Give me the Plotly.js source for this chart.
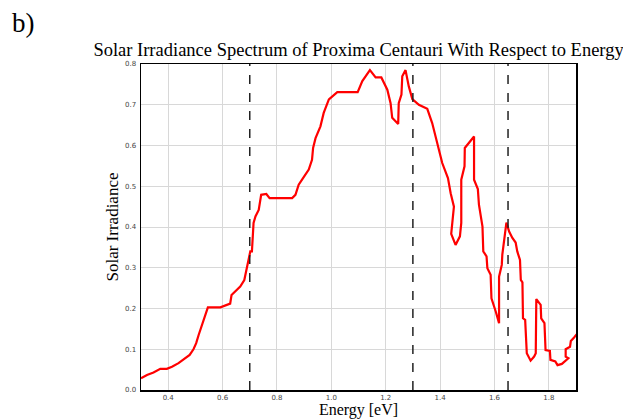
<!DOCTYPE html>
<html>
<head>
<meta charset="utf-8">
<script src="https://cdn.plot.ly/plotly-3.0.1.min.js"></script>
<style>html,body{margin:0;padding:0;background:#fff;}#chart{width:623px;height:419px;}</style>
</head>
<body>
<div id="chart"></div>
<script>
// Energy [eV] and Solar Irradiance
const energy = [0.300,0.322,0.346,0.371,0.395,0.414,0.438,0.457,0.479,0.493,0.503,0.512,0.518,0.530,0.543,0.546,0.592,0.619,0.628,0.633,0.647,0.665,0.680,0.688,0.696,0.702,0.708,0.714,0.721,0.733,0.742,0.761,0.773,0.856,0.868,0.880,0.896,0.917,0.929,0.933,0.942,0.960,0.972,0.991,1.022,1.097,1.114,1.142,1.163,1.184,1.206,1.218,1.224,1.246,1.248,1.258,1.261,1.273,1.285,1.298,1.322,1.353,1.371,1.384,1.408,1.429,1.439,1.451,1.445,1.441,1.457,1.473,1.478,1.478,1.490,1.491,1.525,1.525,1.539,1.543,1.556,1.559,1.571,1.574,1.586,1.589,1.605,1.617,1.617,1.627,1.629,1.635,1.644,1.654,1.666,1.678,1.684,1.694,1.697,1.703,1.705,1.713,1.715,1.719,1.733,1.746,1.752,1.754,1.770,1.772,1.784,1.788,1.804,1.806,1.824,1.832,1.848,1.860,1.872,1.862,1.862,1.878,1.881,1.893,1.903];
const irradiance = [0.029,0.037,0.043,0.052,0.052,0.057,0.066,0.076,0.086,0.100,0.115,0.135,0.147,0.172,0.198,0.203,0.203,0.209,0.212,0.233,0.242,0.254,0.270,0.299,0.319,0.340,0.340,0.410,0.426,0.442,0.479,0.481,0.471,0.471,0.479,0.504,0.520,0.541,0.565,0.594,0.618,0.647,0.680,0.713,0.731,0.731,0.758,0.785,0.767,0.767,0.737,0.704,0.668,0.653,0.704,0.725,0.770,0.785,0.745,0.714,0.700,0.690,0.655,0.618,0.557,0.520,0.483,0.450,0.410,0.383,0.356,0.377,0.410,0.516,0.549,0.594,0.622,0.516,0.493,0.455,0.401,0.340,0.328,0.299,0.283,0.225,0.192,0.164,0.278,0.307,0.332,0.369,0.411,0.389,0.373,0.362,0.340,0.319,0.270,0.264,0.176,0.172,0.147,0.090,0.072,0.082,0.090,0.223,0.209,0.176,0.164,0.098,0.096,0.074,0.070,0.061,0.064,0.070,0.078,0.082,0.100,0.106,0.120,0.129,0.137];
// Vertical dashed reference energies
const thresholds = [0.7, 1.3, 1.65];
const xTicks = [0.4, 0.6, 0.8, 1.0, 1.2, 1.4, 1.6, 1.8];
const yTicks = [0.0, 0.1, 0.2, 0.3, 0.4, 0.5, 0.6, 0.7, 0.8];

const traces = [{
  x: energy, y: irradiance, type: 'scatter', mode: 'lines',
  line: {color: '#ff0000', width: 2.2}, hoverinfo: 'skip'
}];

const shapes = thresholds.map(v => ({
  type: 'line', xref: 'x', yref: 'paper', x0: v, x1: v, y0: 0, y1: 1,
  line: {color: '#222222', width: 1.5, dash: 'dash'}
}));

const tickFont = {family: 'DejaVu Sans, sans-serif', size: 7, color: '#444'};
const serif = 'Liberation Serif, Times New Roman, serif';

const layout = {
  width: 623, height: 419,
  margin: {l: 141, r: 47, t: 64, b: 29},
  paper_bgcolor: '#fff', plot_bgcolor: '#fff',
  showlegend: false,
  title: {text: 'Solar Irradiance Spectrum of Proxima Centauri With Respect to Energy',
    font: {family: serif, size: 18.5, color: '#000'},
    xref: 'container', yref: 'container', x: 0.5755, xanchor: 'center', y: 1 - 43/419, yanchor: 'top'},
  xaxis: {
    range: [0.3, 1.9], tickvals: xTicks, tickformat: '.1f', tickfont: tickFont,
    showgrid: true, gridcolor: '#d8d8d8', gridwidth: 1, zeroline: false,
    showline: true, mirror: true, linecolor: '#000', linewidth: 1.5,
    ticks: '', ticklabelstandoff: 0,
    title: {text: 'Energy [eV]', font: {family: serif, size: 16, color: '#000'}, standoff: 3}
  },
  yaxis: {
    range: [0, 0.8], tickvals: yTicks, tickformat: '.1f', tickfont: tickFont,
    showgrid: true, gridcolor: '#d8d8d8', gridwidth: 1, zeroline: false,
    showline: true, mirror: true, linecolor: '#000', linewidth: 1.5,
    ticks: '', ticklabelstandoff: 2,
    title: {text: 'Solar Irradiance', font: {family: serif, size: 17, color: '#000'}, standoff: 2}
  },
  shapes: shapes,
  annotations: [{
    text: 'b)', xref: 'paper', yref: 'paper', x: (10 - 141) / 435, y: (390 - 6) / 326,
    xanchor: 'left', yanchor: 'top', showarrow: false,
    font: {family: serif, size: 27, color: '#000'}
  }]
};

Plotly.newPlot('chart', traces, layout, {displayModeBar: false, staticPlot: true});
</script>
</body>
</html>
